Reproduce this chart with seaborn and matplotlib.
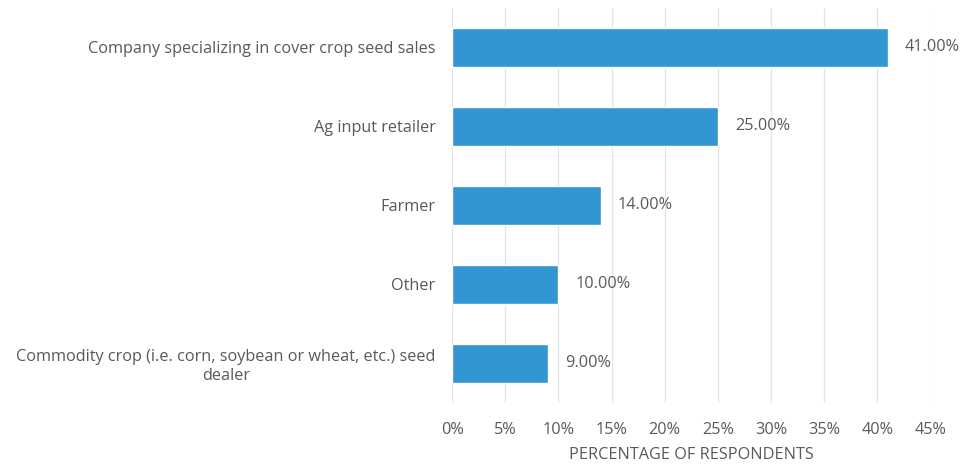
import numpy as np
import pandas as pd
import seaborn as sns
import matplotlib.pyplot as plt

# 数据
categories = ['Company specializing in cover crop seed sales',
              'Ag input retailer',
              'Farmer',
              'Other',
              'Commodity crop (i.e. corn, soybean or wheat, etc.) seed\ndealer']
percentages = [41, 25, 14, 10, 9]
xticks = [0, 5, 10, 15, 20, 25, 30, 35, 40, 45]

df = pd.DataFrame({'category': categories, 'pct': percentages})

sns.set_theme(style='white')
plt.rcParams['font.family'] = ['Open Sans', 'DejaVu Sans']
text_color = '#595959'
fs = 11.7

fig = plt.figure(figsize=(9.62, 4.68), dpi=100)
ax = fig.add_axes([0.47, 0.139, 0.497, 0.844])

sns.barplot(data=df, x='pct', y='category', orient='h', color='#3196D2',
            width=0.5, saturation=1, ax=ax, zorder=3)

# 数值标签
for i, v in enumerate(percentages):
    ax.text(v + 1.6, i, f'{v:.2f}%', va='center', ha='left', fontsize=fs, color=text_color)

ax.set_xlim(0, 45)
ax.set_xticks(xticks)
ax.set_xticklabels([f'{t}%' for t in xticks])
ax.set_ylim(4.5, -0.5)
ax.grid(axis='x', color='#E3E3E3', linewidth=0.9, zorder=0)
ax.set_axisbelow(True)
for s in ax.spines.values():
    s.set_visible(False)

ax.tick_params(axis='both', length=0, labelsize=fs, labelcolor=text_color)
ax.tick_params(axis='x', pad=14)
ax.tick_params(axis='y', pad=12)
for lbl in ax.get_yticklabels():
    lbl.set_multialignment('center')

ax.set_ylabel('')
ax.set_xlabel('PERCENTAGE OF RESPONDENTS', fontsize=fs, color=text_color, labelpad=6)

plt.savefig('out.png', dpi=100)
